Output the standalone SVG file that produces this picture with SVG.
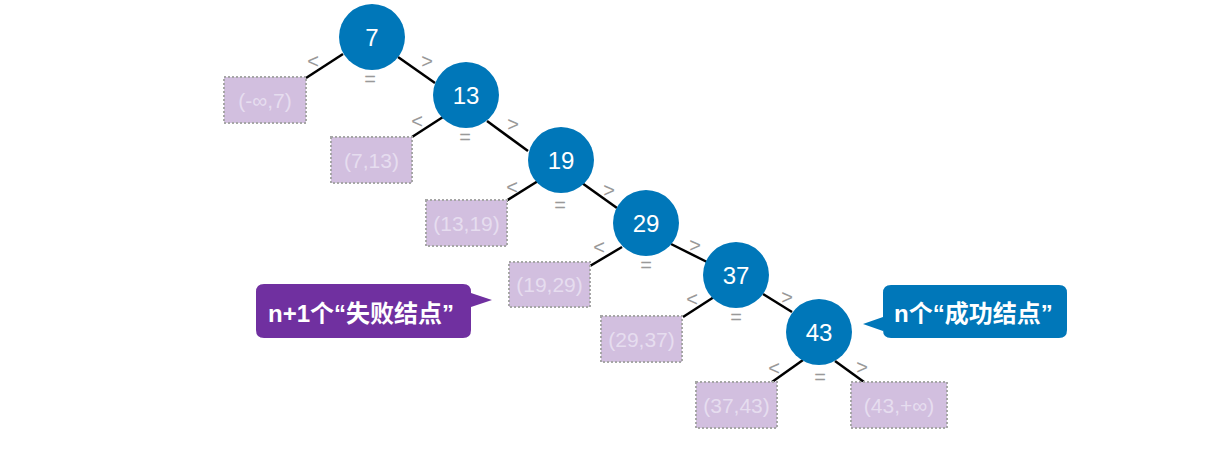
<svg xmlns="http://www.w3.org/2000/svg" width="1213" height="467" viewBox="0 0 1213 467">
<style>
.edge{stroke:#000;stroke-width:2.5;fill:none;stroke-linecap:butt}
.node circle{fill:#0077B9}
.node text{fill:#fff;font-family:"Liberation Sans",Arial,sans-serif;font-size:24px;text-anchor:middle}
.fail rect{fill:#D2BFDF;stroke:#A6A6A6;stroke-width:2;stroke-dasharray:2,2}
.fail text{fill:#E6DDEF;font-family:"Liberation Sans",Arial,sans-serif;font-size:21px;text-anchor:middle}
.lbl{fill:#999;font-family:"Liberation Sans",Arial,sans-serif;font-size:20px;text-anchor:middle}
.call text{fill:#fff;font-family:"Liberation Sans","Noto Sans CJK SC",sans-serif;font-size:24px;font-weight:bold}
</style>
<g id="connectors">
<line class="edge" x1="343" y1="54" x2="306" y2="78"/>
<line class="edge" x1="398" y1="57" x2="435" y2="83"/>
<line class="edge" x1="443" y1="117" x2="412" y2="137"/>
<line class="edge" x1="487" y1="121" x2="528" y2="151"/>
<line class="edge" x1="538" y1="181" x2="506" y2="201"/>
<line class="edge" x1="582" y1="183" x2="617" y2="208"/>
<line class="edge" x1="622" y1="247" x2="590" y2="266"/>
<line class="edge" x1="671" y1="244" x2="707" y2="262"/>
<line class="edge" x1="714" y1="297" x2="683" y2="317"/>
<line class="edge" x1="763" y1="294" x2="792" y2="312"/>
<line class="edge" x1="803" y1="360" x2="772" y2="382"/>
<line class="edge" x1="835" y1="361" x2="864" y2="382"/>
</g>
<g id="labels">
<text class="lbl" x="313" y="68">&lt;</text><text class="lbl" x="427" y="68">&gt;</text><text class="lbl" x="370" y="86">=</text>
<text class="lbl" x="417" y="128">&lt;</text><text class="lbl" x="513" y="131">&gt;</text><text class="lbl" x="465" y="144">=</text>
<text class="lbl" x="512" y="194">&lt;</text><text class="lbl" x="609" y="197">&gt;</text><text class="lbl" x="560" y="212">=</text>
<text class="lbl" x="599" y="254">&lt;</text><text class="lbl" x="695" y="252">&gt;</text><text class="lbl" x="646" y="272">=</text>
<text class="lbl" x="692" y="306">&lt;</text><text class="lbl" x="787" y="304">&gt;</text><text class="lbl" x="736" y="324">=</text>
<text class="lbl" x="774" y="375">&lt;</text><text class="lbl" x="862" y="374">&gt;</text><text class="lbl" x="820" y="384">=</text>
</g>
<g id="n7" class="node"><circle cx="372" cy="37" r="33"/><text x="372" y="46">7</text></g>
<g id="n13" class="node"><circle cx="466" cy="95" r="33"/><text x="466" y="104">13</text></g>
<g id="n19" class="node"><circle cx="561" cy="160" r="33"/><text x="561" y="169">19</text></g>
<g id="n29" class="node"><circle cx="646" cy="223" r="33"/><text x="646" y="232">29</text></g>
<g id="n37" class="node"><circle cx="736" cy="275" r="33"/><text x="736" y="284">37</text></g>
<g id="n43" class="node"><circle cx="819" cy="332" r="33"/><text x="819" y="341">43</text></g>
<g id="f0" class="fail"><rect x="224" y="77" width="82" height="46"/><text x="265" y="108">(-∞,7)</text></g>
<g id="f1" class="fail"><rect x="331" y="137" width="81" height="46"/><text x="371.5" y="168">(7,13)</text></g>
<g id="f2" class="fail"><rect x="426" y="200" width="81" height="46"/><text x="466.5" y="231">(13,19)</text></g>
<g id="f3" class="fail"><rect x="509" y="262" width="81" height="45"/><text x="549.5" y="292">(19,29)</text></g>
<g id="f4" class="fail"><rect x="601" y="316" width="81" height="46"/><text x="641.5" y="347">(29,37)</text></g>
<g id="f5" class="fail"><rect x="696" y="382" width="81" height="46"/><text x="736.5" y="413">(37,43)</text></g>
<g id="f6" class="fail"><rect x="851" y="382" width="96" height="46"/><text x="899" y="413">(43,+∞)</text></g>
<g id="callout-fail" class="call">
<path d="M264,284 H463 Q471,284 471,292 V293 L492,300 L471,307 V330 Q471,338 463,338 H264 Q256,338 256,330 V292 Q256,284 264,284 Z" fill="#7030A0"/>
<text x="268" y="322">n+1个“失败结点”</text>
</g>
<g id="callout-success" class="call">
<path d="M891,285 H1059 Q1067,285 1067,293 V330 Q1067,338 1059,338 H891 Q883,338 883,330 V331 L863,324 L883,317 V293 Q883,285 891,285 Z" fill="#0077B9"/>
<text x="894" y="322">n个“成功结点”</text>
</g>
</svg>
